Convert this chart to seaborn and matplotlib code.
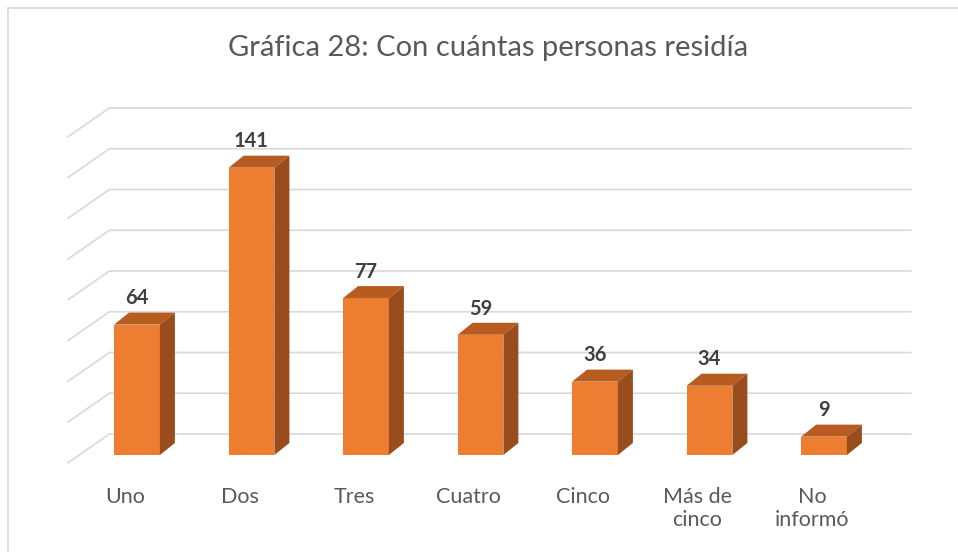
import numpy as np
import matplotlib.pyplot as plt
import seaborn as sns
from matplotlib.patches import Polygon
from matplotlib.lines import Line2D

categorias = ['Uno', 'Dos', 'Tres', 'Cuatro', 'Cinco', 'Más de\ncinco', 'No\ninformó']
personas = [64, 141, 77, 59, 36, 34, 9]
niveles = list(range(0, 161, 20))
titulo = 'Gráfica 28: Con cuántas personas residía'

naranja = '#ED7D31'
naranja_top = '#B65C20'
naranja_lado = '#9A4D1C'
gris_grid = '#D9D9D9'
gris_texto = '#595959'

sns.set_theme(style='white')
plt.rcParams['font.family'] = ['Lato', 'DejaVu Sans']

W, H = 958, 552
fig = plt.figure(figsize=(W / 100, H / 100), dpi=100)
ax = fig.add_axes([79.75 / W, (H - 455) / H, 801.5 / W, 326 / H])

# 3d look (oblique projection), in data units
DXB, DYB = 0.131, 5.9          # depth of the bars
BACK_DX, BACK_DY = 0.259, 10.3  # back wall
FRONT_DX, FRONT_DY = -0.105, -3.9  # front edge of floor / side wall

sns.barplot(x=categorias, y=personas, color=naranja, saturation=1, width=0.4,
            linewidth=0, edgecolor='none', ax=ax, zorder=3)

for p in ax.patches:
    x0, w, h = p.get_x(), p.get_width(), p.get_height()
    top = [(x0, h), (x0 + w, h), (x0 + w + DXB, h + DYB), (x0 + DXB, h + DYB)]
    side = [(x0 + w, 0), (x0 + w, h), (x0 + w + DXB, h + DYB), (x0 + w + DXB, DYB)]
    ax.add_patch(Polygon(top, closed=True, facecolor=naranja_top, edgecolor='none', zorder=3))
    ax.add_patch(Polygon(side, closed=True, facecolor=naranja_lado, edgecolor='none', zorder=3))
    ax.text(x0 + w / 2, h + DYB + 7, f'{int(h)}', ha='center', va='center',
            fontsize=14.5, fontweight='bold', color='#404040', zorder=4)

# gridlines on side wall and back wall
for v in niveles:
    ax.plot([-0.5 + FRONT_DX, -0.5 + BACK_DX, 6.5 + BACK_DX],
            [v + FRONT_DY, v + BACK_DY, v + BACK_DY],
            color=gris_grid, lw=1.2, clip_on=False, zorder=1)

ax.set_xlim(-0.5, 6.5)
ax.set_ylim(0, 160)
ax.set_yticks([])
ax.set_xticks(np.arange(len(categorias)) + FRONT_DX)
ax.set_xticklabels(categorias, fontsize=15.5, color=gris_texto, linespacing=1.2)
ax.tick_params(axis='x', length=0, pad=23)
ax.set_xlabel('')
ax.set_ylabel('')
sns.despine(ax=ax, left=True, bottom=True)
ax.patch.set_alpha(0)

fig.text(488 / W, 1 - 48 / H, titulo, ha='center', va='center',
         fontsize=21, color=gris_texto)

# chart border
fig.add_artist(Line2D([8 / W, 1], [1 - 8 / H, 1 - 8 / H], color=gris_grid, lw=1.2))
fig.add_artist(Line2D([8 / W, 8 / W], [0, 1 - 8 / H], color=gris_grid, lw=1.2))

fig.savefig('out.png', dpi=100)
